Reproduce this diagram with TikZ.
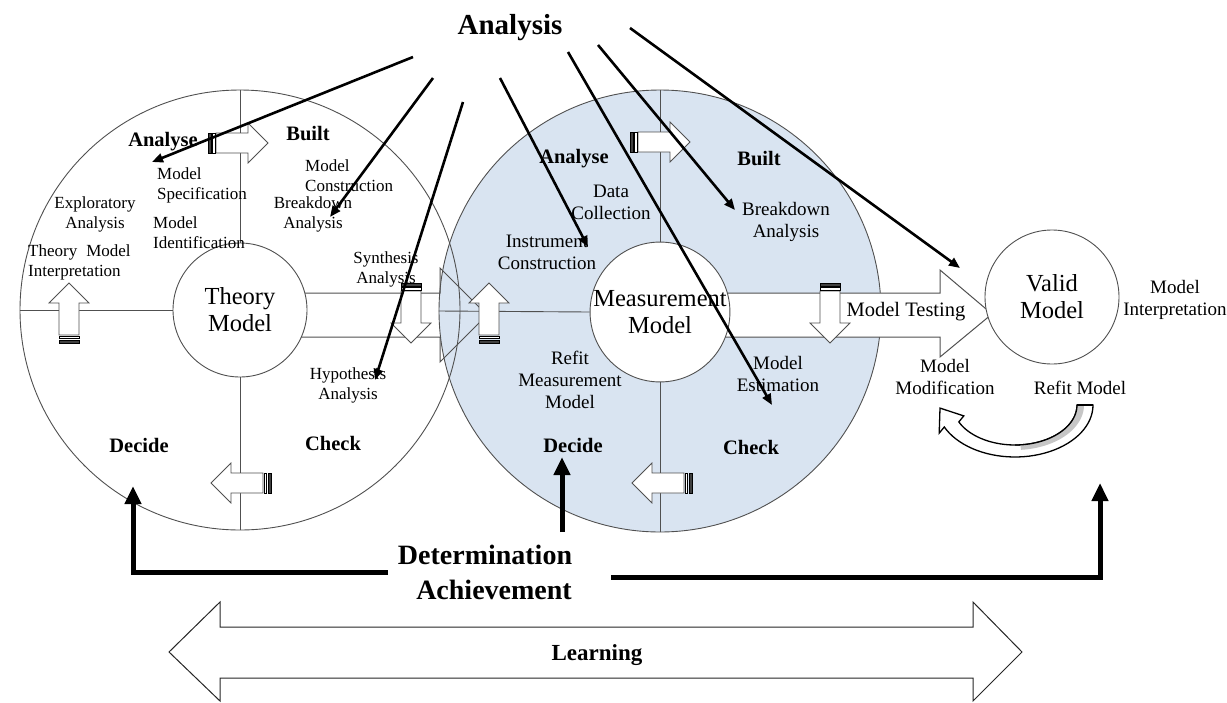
\documentclass[tikz,border=0pt]{standalone}
\usepackage{fontspec}
\setmainfont{Liberation Serif}
\usetikzlibrary{arrows.meta}
\definecolor{paleblue}{RGB}{217,228,241}
\definecolor{ringgray}{RGB}{80,80,80}

\begin{document}
\begin{tikzpicture}[x=1pt, y=-1pt,
  every node/.style = {align=center, inner sep=0pt},
  small/.style = {font=\fontsize{17}{20}\selectfont},
  side/.style = {font=\fontsize{19}{22}\selectfont},
  phase/.style = {font=\fontsize{20.5}{24}\selectfont\bfseries},
  big/.style = {font=\fontsize{24.5}{27}\selectfont},
  ring/.style = {draw=ringgray, line width=0.9pt},
  model/.style = {ring, circle, fill=white, minimum size=134pt},
  pointer/.style = {line width=2.6pt, -{Triangle[length=11pt,width=9pt]}},
  thickpointer/.style = {line width=5pt, -{Triangle[length=18pt,width=16pt]}},
  blockarrow/.style = {draw=ringgray, line width=1pt, fill=white},
  stripe arrow/.pic = {
    \filldraw[blockarrow, line width=0.8pt] (8,-10) -- (40,-10) -- (40,-20)
      -- (60,0) -- (40,20) -- (40,10) -- (8,10) -- cycle;
    \filldraw[fill=black!75, draw=black] (0,-10) rectangle (3,10);
    \draw[fill=white, line width=0.6pt] (4.5,-10) rectangle (7,10);
  }]
  \useasboundingbox (0,0) rectangle (1227,702);

  % the two cycles
  \node[ring, circle, fill=paleblue, minimum size=442pt] (measring) at (660,311) {};
  \node[ring, circle, minimum size=440pt] (theoryring) at (240,310) {};

  % block arrows along the middle
  \draw[ring, line width=1pt] (240,293) -- (440,293) -- (440,268) -- (487,315)
    -- (440,362) -- (440,337) -- (240,337);
  \filldraw[blockarrow] (660,293) -- (940,293) -- (940,270) -- (992,314)
    -- (940,357) -- (940,337) -- (660,337);

  \node[model, big] (theory) at (240,310) {Theory\\Model};
  \node[model, big] (meas) at (660,312) {Measurement\\Model};
  \node[model, big] (valid) at (1052,297) {Valid\\Model};

  \draw[ring] (theoryring.north) -- (theory.north);
  \draw[ring] (theoryring.south) -- (theory.south);
  \draw[ring] (theoryring.west) -- (theory.west);
  \draw[ring] (measring.north) -- (meas.north);
  \draw[ring] (measring.south) -- (meas.south);
  \draw[ring] (measring.west) -- (meas.west);

  % turning arrows
  \pic at (208,143) {stripe arrow};
  \pic[rotate=90] at (69,343) {stripe arrow};
  \pic[rotate=-90] at (411,283) {stripe arrow};
  \pic[rotate=180] at (271,483) {stripe arrow};
  \pic at (630,142) {stripe arrow};
  \pic[rotate=90] at (489,343) {stripe arrow};
  \pic[rotate=-90] at (830,283) {stripe arrow};
  \pic[rotate=180] at (692,483) {stripe arrow};

  % theory cycle
  \node[phase] (tAnalyse) at (163,142) {Analyse};
  \node[phase] (tBuilt) at (308,134) {Built};
  \node[phase] (tDecide) at (139,445) {Decide};
  \node[phase] (tCheck) at (333,443) {Check};
  \node[small, anchor=west, align=left] (spec) at (157,185) {Model\\Specification};
  \node[small, anchor=west, align=left] (ident) at (153,233) {Model\\Identification};
  \node[small] (explore) at (95,214) {Exploratory\\Analysis};
  \node[small, anchor=west, align=left] (tinterp) at (28,262) {Theory\hspace{9pt}Model\\Interpretation};
  \node[small, anchor=west, align=left] (construct) at (305,176) {Model\\Construction};
  \node[small] (tbreak) at (313,214) {Breakdown\\Analysis};
  \node[small] (synth) at (386,269) {Synthesis\\Analysis};
  \node[small] (hypo) at (348,385) {Hypothesis\\Analysis};

  % measurement cycle
  \node[phase] (mAnalyse) at (574,159) {Analyse};
  \node[phase] (mBuilt) at (759,159) {Built};
  \node[phase] (mDecide) at (573,445) {Decide};
  \node[phase] (mCheck) at (751,447) {Check};
  \node[side] (data) at (611,202) {Data\\Collection};
  \node[side] (instr) at (547,252) {Instrument\\Construction};
  \node[side] (mbreak) at (786,222) {Breakdown\\Analysis};
  \node[side] (refitmeas) at (570,380) {Refit\\Measurement\\Model};
  \node[side] (estim) at (778,374) {Model\\Estimation};

  % valid model
  \node[font=\fontsize{20.5}{24}\selectfont] (testing) at (906,312) {Model Testing};
  \node[side] (vinterp) at (1175,300) {Model\\Interpretation};
  \node[side] (modif) at (945,377) {Model\\Modification};
  \node[side] (refit) at (1080,388) {Refit Model};

  % refit loop
  \filldraw[fill=white, draw=black, line width=1.3pt]
    plot[domain=0:155, samples=40] ({1015+78*cos(\x)},{405+52*sin(\x)})
    -- (939.2,433.1) -- (940,408.1) -- (963.8,415.9)
    -- plot[domain=155:0, samples=40] ({1015+62*cos(\x)},{405+40*sin(\x)}) -- cycle;
  \fill[gray!45] plot[domain=0:85, samples=30] ({1015+69*cos(\x)},{405+45*sin(\x)})
    -- plot[domain=85:0, samples=30] ({1015+62*cos(\x)},{405+40*sin(\x)}) -- cycle;
  \draw[line width=1.3pt] plot[domain=0:90, samples=30] ({1015+62*cos(\x)},{405+40*sin(\x)});
  \draw[line width=1.3pt] (1077,405) -- (1093,405);

  % analysis pointers
  \node[font=\fontsize{29}{32}\selectfont\bfseries] (analysis) at (510,28) {Analysis};
  \coordinate (src1) at (413,57);  \coordinate (dst1) at (152,162);
  \coordinate (src2) at (433,78);  \coordinate (dst2) at (330,217);
  \coordinate (src3) at (463,102); \coordinate (dst3) at (375,380);
  \coordinate (src4) at (500,78);  \coordinate (dst4) at (588,247);
  \coordinate (src5) at (568,52);  \coordinate (dst5) at (772,405);
  \coordinate (src6) at (598,45);  \coordinate (dst6) at (735,210);
  \coordinate (src7) at (630,28);  \coordinate (dst7) at (960,268);
  \foreach \i in {1,...,7}
    \draw[pointer] (src\i) -- (dst\i);

  % determination
  \node[font=\fontsize{28}{35}\selectfont\bfseries] (determ) at (485,572) {Determination\\\hspace{18pt}Achievement};
  \coordinate (detL) at (388,572);  \coordinate (decL) at (133,486);
  \coordinate (detU) at (562,532);  \coordinate (decR) at (562,457);
  \coordinate (detR) at (611,577);  \coordinate (validU) at (1100,483);
  \draw[thickpointer] (detL) -| (decL);
  \draw[thickpointer] (detU) -- (decR);
  \draw[thickpointer] (detR) -| (validU);

  % learning
  \filldraw[blockarrow, draw=black!85] (169,652) -- (220,602) -- (220,627) -- (973,627)
    -- (973,602) -- (1022,652) -- (973,701) -- (973,678) -- (220,678) -- (220,701) -- cycle;
  \node[font=\fontsize{23}{26}\selectfont\bfseries] (learning) at (597,655) {Learning};
\end{tikzpicture}
\end{document}
